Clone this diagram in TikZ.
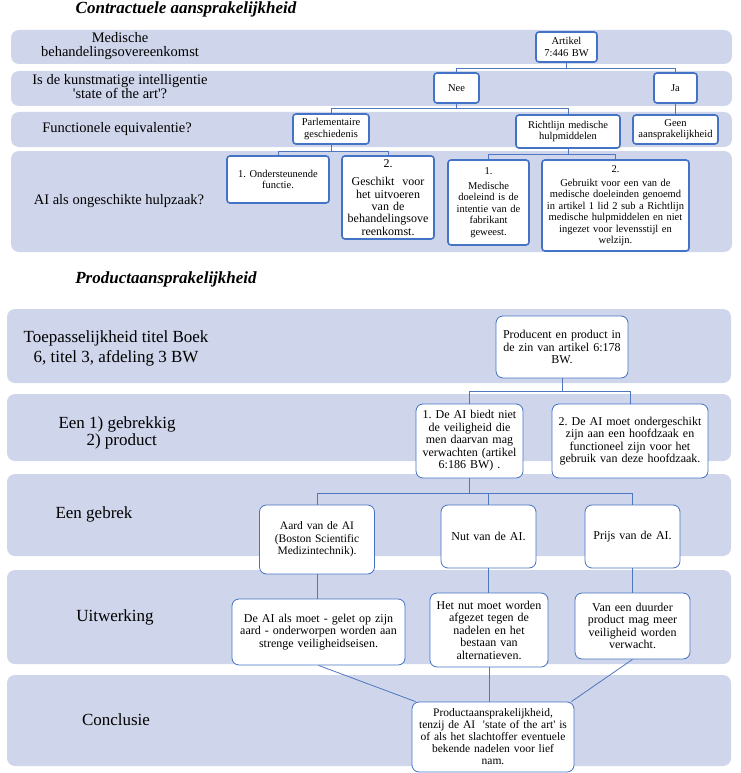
\documentclass[tikz,border=0pt]{standalone}
\usepackage{fontspec}
\setmainfont{Liberation Serif}
\frenchspacing
\definecolor{lanefill}{HTML}{CFD5EA}
\definecolor{boxblue}{HTML}{4472C4}
\definecolor{linkblue}{HTML}{4F76C0}
\tikzset{
  lane/.style={fill=lanefill, rounded corners=8pt},
  tbox/.style={draw=boxblue, line width=1.6pt, rounded corners=3pt, fill=white, align=center, inner sep=0pt, font=\fontsize{10.5}{11.5}\selectfont},
  pbox/.style={draw=boxblue, line width=0.8pt, rounded corners=7pt, fill=white, align=center, inner sep=0pt, font=\fontsize{12}{12.5}\selectfont},
  wh/.style 2 args={text width=#1pt, minimum height=#2pt},
  link/.style={draw=linkblue, line width=0.8pt},
  toplabel/.style={align=center, font=\fontsize{14.5}{14}\selectfont},
  botlabel/.style={align=center, font=\fontsize{17}{20}\selectfont},
  heading/.style={font=\fontsize{17}{20}\selectfont\bfseries\itshape}
}
\begin{document}
\begin{tikzpicture}[x=1pt, y=-1pt]
                \useasboundingbox (0,0) rectangle (740,773);

                %Draw the lanes of the contract part
                \path[lane] (11,30) rectangle (732,64);
                \path[lane] (11,71) rectangle (732,106);
                \path[lane] (11,112) rectangle (732,147);
                \path[lane] (11,151) rectangle (732,252);

                %Draw the lanes of the product part
                \path[lane] (7,309) rectangle (731,383);
                \path[lane] (7,394) rectangle (731,461);
                \path[lane] (7,474) rectangle (731,556);
                \path[lane] (7,570) rectangle (731,664);
                \path[lane] (7,675) rectangle (731,766);

                %Headings
                \node[heading] (kopcontract) at (186,9) {Contractuele aansprakelijkheid};
                \node[heading] (kopproduct) at (166,279) {Productaansprakelijkheid};

                %Lane labels
                \node[toplabel] (lbehandeling) at (120,46) {Medische\\behandelingsovereenkomst};
                \node[toplabel] (lstate) at (120,87) {Is de kunstmatige intelligentie\\\textquotesingle state of the art\textquotesingle?};
                \node[toplabel] (lfunctie) at (117,129) {Functionele equivalentie?};
                \node[toplabel] (lhulpzaak) at (119,201) {AI als ongeschikte hulpzaak?};
                \node[botlabel] (ltitel) at (116,348) {Toepasselijkheid titel Boek\\6, titel 3, afdeling 3 BW};
                \node[botlabel, align=left, anchor=west, font=\fontsize{17}{17}\selectfont] (lgebrekkig) at (55,432.5) {Een 1) gebrekkig\\\hspace*{28pt}2) product};
                \node[botlabel] (lgebrek) at (94,514) {Een gebrek};
                \node[botlabel] (luitwerking) at (115,617) {Uitwerking};
                \node[botlabel] (lconclusie) at (116,720) {Conclusie};

                %Contract tree
                \node[tbox, wh={61}{30}] (artikel) at (566.5,47) {Artikel\\7:446 BW};
                \node[tbox, wh={45}{30}] (nee) at (456.5,88) {Nee};
                \node[tbox, wh={43}{30}] (ja) at (675.5,88) {Ja};
                \node[tbox, wh={76}{30}] (parlement) at (331,129) {Parlementaire\\geschiedenis};
                \node[tbox, wh={104}{33}] (richtlijn) at (568,131.5) {Richtlijn medische\\hulpmiddelen};
                \node[tbox, wh={85}{29}] (geen) at (675.5,129.5) {Geen\\aansprakelijkheid};
                \node[tbox, wh={102}{47}] (ondersteunend) at (278,179.5) {1. Ondersteunende\\functie.};
                \node[tbox, wh={92}{83}, font=\fontsize{12}{12.3}\selectfont] (geschikt) at (388,197.5) {2.\\[6pt]Geschikt~~voor\\het uitvoeren\\van de\\behandelingsove\\reenkomst.};
                \node[tbox, wh={81}{85}] (doeleind) at (488.5,202.5) {1.\\[3pt]Medische\\doeleind is de\\intentie van de\\fabrikant\\geweest.};
                \node[tbox, wh={147}{91}] (gebruikt) at (615.5,205.5) {2.\\[2.5pt]Gebruikt voor een van de\\medische doeleinden genoemd\\in artikel 1 lid 2 sub a Richtlijn\\medische hulpmiddelen en niet\\ingezet voor levensstijl en\\welzijn.};

                \draw[link] (artikel.south) -- ++(0,6) -| (nee.north);
                \draw[link] (artikel.south) -- ++(0,6) -| (ja.north);
                \draw[link] (nee.south) -- ++(0,5) -| (parlement.north);
                \draw[link] (nee.south) -- ++(0,5) -| (richtlijn.north);
                \draw[link] (ja.south) -- (geen.north);
                \draw[link] (parlement.south) -- ++(0,7) -| (ondersteunend.north);
                \draw[link] (parlement.south) -- ++(0,7) -| (geschikt.north);
                \draw[link] (richtlijn.south) -- ++(0,6) -| (doeleind.north);
                \draw[link] (richtlijn.south) -- ++(0,6) -| (gebruikt.north);

                %Product tree
                \node[pbox, wh={132}{62}] (producent) at (562,347) {Producent en product in\\de zin van artikel 6:178\\BW.};
                \node[pbox, wh={107}{74}] (veiligheid) at (469.5,441) {1. De AI biedt niet\\de veiligheid die\\men daarvan mag\\verwachten (artikel\\6:186 BW) .};
                \node[pbox, wh={156}{74}] (hoofdzaak) at (630,441) {2. De AI moet ondergeschikt\\zijn aan een hoofdzaak en\\functioneel zijn voor het\\gebruik van deze hoofdzaak.};
                \node[pbox, wh={115}{69}, font=\fontsize{11.5}{12.5}\selectfont] (aard) at (317,539.5) {Aard van de AI\\(Boston Scientific\\Medizintechnik).};
                \node[pbox, wh={95}{63}] (nut) at (488.5,536.5) {Nut van de AI.};
                \node[pbox, wh={95}{63}] (prijs) at (632.5,536.5) {Prijs van de AI.};
                \node[pbox, wh={173}{66}] (strenge) at (318.5,632) {De AI als moet - gelet op zijn\\aard - onderworpen worden aan\\strenge veiligheidseisen.};
                \node[pbox, wh={118}{74}] (afgezet) at (489,630) {Het nut moet worden\\afgezet tegen de\\nadelen en het\\bestaan van\\alternatieven.};
                \node[pbox, wh={115}{66}] (duurder) at (632.5,626) {Van een duurder\\product mag meer\\veiligheid worden\\verwacht.};
                \node[pbox, wh={162}{70}, font=\fontsize{11.5}{12}\selectfont] (conclusie) at (493,737) {Productaansprakelijkheid,\\tenzij de AI~~\textquotesingle state of the art\textquotesingle\ is\\of als het slachtoffer eventuele\\bekende nadelen voor lief\\nam.};

                \draw[link] (producent.south) -- ++(0,13) -| (veiligheid.north);
                \draw[link] (producent.south) -- ++(0,13) -| (hoofdzaak.north);
                \draw[link] (veiligheid.south) -- ++(0,15) -| (aard.north);
                \draw[link] (veiligheid.south) -- ++(0,15) -| (nut.north);
                \draw[link] (veiligheid.south) -- ++(0,15) -| (prijs.north);
                \draw[link] (aard.south) -- (aard.south |- strenge.north);
                \draw[link] (nut.south) -- (nut.south |- afgezet.north);
                \draw[link] (prijs.south) -- (prijs.south |- duurder.north);
                \draw[link] (strenge.south) -- ([xshift=4pt]conclusie.north west);
                \draw[link] (afgezet.south) -- (afgezet.south |- conclusie.north);
                \draw[link] (duurder.south) -- ([xshift=-3pt]conclusie.north east);

            \end{tikzpicture}
\end{document}
